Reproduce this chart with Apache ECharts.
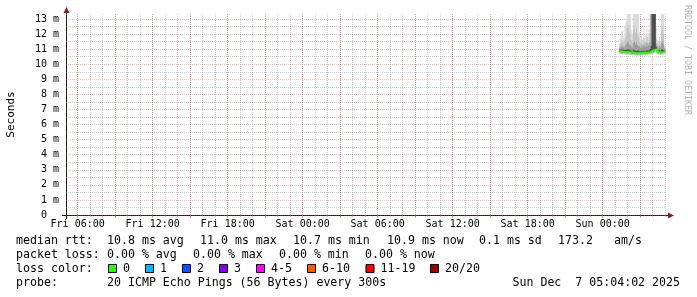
<!DOCTYPE html>
<html><head><meta charset="utf-8">
<script src="https://cdn.jsdelivr.net/npm/echarts@6/dist/echarts.min.js"></script>
<style>html,body{margin:0;padding:0;background:#fff}#c{width:697px;height:297px}</style>
</head><body><div id="c"></div>
<script>
// ---------- data ----------
const times = ['01:20','01:25','01:30','01:35','01:40','01:45','01:50','01:55',
  '02:00','02:05','02:10','02:15','02:20','02:25','02:30','02:35','02:40','02:45','02:50','02:55',
  '03:00','03:05','03:10','03:15','03:20','03:25','03:30','03:35','03:40','03:45','03:50','03:55',
  '04:00','04:05','04:10','04:15','04:20','04:25','04:30','04:35','04:40','04:45','04:50','04:55',
  '05:00'];
const medianRtt = [10.88,10.86,10.84,10.82,10.85,10.80,10.79,10.81,10.78,10.80,
  10.79,10.77,10.75,10.78,10.74,10.73,10.72,10.74,10.76,10.72,
  10.71,10.75,10.73,10.77,10.76,10.74,10.78,10.77,10.79,10.80,
  10.82,10.88,10.85,10.95,11.02,10.98,10.86,10.79,10.80,10.78,
  10.80,10.79,10.81,10.85,10.90];
const smokeMin = [10.70,10.70,10.68,10.66,10.69,10.64,10.64,10.65,10.62,10.64,
  10.63,10.62,10.60,10.63,10.59,10.58,10.58,10.60,10.61,10.57,
  10.57,10.60,10.58,10.62,10.61,10.59,10.63,10.62,10.64,10.65,
  10.66,10.70,10.68,10.75,10.80,10.78,10.70,10.64,10.65,10.63,
  10.65,10.64,10.66,10.70,10.74];
const smokeLow = [10.83,10.81,10.79,10.77,10.80,10.75,10.74,10.76,10.73,10.75,
  10.74,10.72,10.70,10.73,10.69,10.68,10.67,10.69,10.71,10.67,
  10.66,10.70,10.68,10.72,10.71,10.69,10.73,10.72,10.74,10.75,
  10.77,10.83,10.80,10.90,10.97,10.93,10.81,10.74,10.75,10.73,
  10.75,10.74,10.76,10.80,10.85];
const smokeP60 = [10.98,10.97,11.00,10.95,10.96,10.92,10.95,10.97,11.00,10.96,
  10.92,10.90,10.86,10.96,10.92,10.90,10.88,10.91,10.90,10.86,
  10.85,10.90,10.86,10.91,10.90,10.86,10.95,10.90,10.92,11.00,
  11.20,14.00,14.00,14.00,14.00,11.15,10.97,10.90,10.92,10.90,
  10.98,10.97,10.93,10.96,11.02];
const smokeP75 = [11.10,11.12,11.22,11.18,11.10,11.20,11.30,11.42,11.50,11.32,
  11.28,11.18,11.10,11.40,11.50,11.30,11.42,11.28,11.20,11.18,
  11.10,11.28,11.12,11.30,11.20,11.18,11.40,11.20,11.30,11.45,
  14.00,14.00,14.00,14.00,14.00,11.30,11.20,11.05,11.20,11.10,
  11.40,11.50,11.30,11.02,11.08];
const smokeP90 = [11.30,11.40,11.60,11.50,11.30,11.60,11.90,12.40,12.60,12.20,
  12.00,11.60,11.40,12.30,12.60,12.10,12.40,12.00,11.80,11.50,
  11.40,11.60,11.30,11.70,11.40,11.50,11.80,11.40,11.60,12.00,
  14.00,14.00,14.00,14.00,14.00,11.70,11.40,11.20,11.50,11.30,
  12.20,12.60,12.00,11.10,11.20];
const smokeMax = [11.70,11.90,12.20,12.20,11.80,12.50,12.90,14.00,14.00,14.00,
  14.00,12.30,11.90,14.00,14.00,14.00,14.00,14.00,14.00,12.10,
  11.80,12.00,11.60,12.40,11.70,11.90,12.60,11.80,12.30,14.00,
  14.00,14.00,14.00,14.00,14.00,12.40,11.60,11.40,11.80,11.50,
  14.00,14.00,14.00,11.20,11.30];
const yTicks = [0,1,2,3,4,5,6,7,8,9,10,11,12,13];
const yMinorTicks = [0.5,1.5,2.5,3.5,4.5,5.5,6.5,7.5,8.5,9.5,10.5,11.5,12.5];
const xLabelHours = [6,12,18,24,30,36,42,48];
const xLabels = ['Fri 06:00','Fri 12:00','Fri 18:00','Sat 00:00','Sat 06:00','Sat 12:00','Sat 18:00','Sun 00:00'];
const xMajorHours = [6,9,12,15,18,21,24,27,30,33,36,39,42,45,48,51];
const xMinorHours = [6,7,8,9,10,11,12,13,14,15,16,17,18,19,20,21,22,23,24,25,26,27,28,29,30,31,32,33,34,35,36,37,38,39,40,41,42,43,44,45,46,47,48,49,50,51,52,53];
const lossLabels = ['0','1','2','3','4-5','6-10','11-19','20/20'];
const lossColors = ['#26ff00','#00b8ff','#0059ff','#7e00ff','#ff00ff','#ff5500','#ff0000','#a10000'];
const rttStats = ['median rtt:','10.8 ms avg','11.0 ms max','10.7 ms min','10.9 ms now','0.1 ms sd','173.2','am/s'];
const lossStats = ['packet loss:','0.00 % avg','0.00 % max','0.00 % min','0.00 % now'];
const probeText = ['probe:','20 ICMP Echo Pings (56 Bytes) every 300s'];
const dateText = 'Sun Dec  7 05:04:02 2025';
const yTitle = 'Seconds';
const watermark = 'RRDTOOL / TOBI OETIKER';

// ---------- layout ----------
const W = 697, H = 297;
const GL = 66, GT = 14, GW = 600, GH = 201;
const T0 = 5 + 4/60 + 2/3600, T1 = T0 + 48;   // hours since Fri 00:00
const YMAX = 13.33;
const FONT = '"DejaVu Sans Mono", monospace';
const hx = times.map(t => { const [h, m] = t.split(':').map(Number); return 48 + h + m / 60; });

const minorGrid = {color: 'rgba(130,130,130,0.42)', type: [1, 1], width: 1};
const majorGrid = {color: 'rgba(220,60,60,0.36)', type: [1, 1], width: 1};
const baseX = {type: 'value', min: T0, max: T1, gridIndex: 0, position: 'bottom',
  axisLine: {show: false}, axisLabel: {show: false}, axisTick: {show: false}, splitLine: {show: false}};
const baseY = {type: 'value', min: 0, max: YMAX, gridIndex: 0, position: 'left',
  axisLine: {show: false}, axisLabel: {show: false}, axisTick: {show: false}, splitLine: {show: false}};

const bands = [
  {lo: smokeMin, hi: smokeMax, color: '#dcdcdc'},
  {lo: smokeMin, hi: smokeP90, color: '#c4c4c4'},
  {lo: smokeLow, hi: smokeP75, color: '#9e9e9e'},
  {lo: smokeLow, hi: smokeP60, color: '#4e4e4e'}
];

// smoke bands drawn as stepped polygons through the axes' scales
function renderBand(params, api) {
  const b = bands[params.dataIndex];
  const cs = params.coordSys;
  const clampY = p => [p[0], Math.max(cs.y, Math.min(cs.y + cs.height, p[1]))];
  const top = [], bot = [];
  for (let i = 0; i < hx.length - 1; i++) {
    top.push(clampY(api.coord([hx[i], b.hi[i]])), clampY(api.coord([hx[i + 1], b.hi[i]])));
    bot.push(clampY(api.coord([hx[i], b.lo[i]])), clampY(api.coord([hx[i + 1], b.lo[i]])));
  }
  return {type: 'polygon', shape: {points: top.concat(bot.reverse())}, style: {fill: b.color}};
}
const series = [{type: 'custom', renderItem: renderBand, data: bands.map((b, k) => k), silent: true, z: 2,
  xAxisIndex: 0, yAxisIndex: 1}];
series.push({type: 'line', step: 'end', symbol: 'none', silent: true, z: 5, xAxisIndex: 0, yAxisIndex: 1,
  lineStyle: {width: 2, color: lossColors[0]}, data: hx.map((x, i) => [x, medianRtt[i]])});

const gx = [];
const txt = (x, y, text, extra) => gx.push(Object.assign({type: 'text', x, y,
  style: Object.assign({text, font: '11.6px ' + FONT, fill: '#000', verticalAlign: 'middle', align: 'left'}, extra || {})}));
// axis lines and arrows
const axisCol = '#1a1a1a', arrowCol = '#7f1f1f';
const xAxisY = GT + GH + 0.5, yAxisX = GL + 0.5;
gx.push({type: 'line', shape: {x1: GL - 4, y1: xAxisY, x2: GL + GW + 3, y2: xAxisY}, style: {stroke: axisCol, lineWidth: 1}});
gx.push({type: 'line', shape: {x1: yAxisX, y1: GT + GH + 4, x2: yAxisX, y2: GT - 4}, style: {stroke: axisCol, lineWidth: 1}});
gx.push({type: 'polygon', shape: {points: [[GL + GW + 2, xAxisY - 3], [GL + GW + 8, xAxisY], [GL + GW + 2, xAxisY + 3]]}, style: {fill: arrowCol}});
gx.push({type: 'polygon', shape: {points: [[yAxisX - 3, GT - 1], [yAxisX, GT - 7], [yAxisX + 3, GT - 1]]}, style: {fill: arrowCol}});
// titles
gx.push({type: 'text', x: 11, y: GT + GH / 2, rotation: Math.PI / 2,
  style: {text: yTitle, font: '11px ' + FONT, fill: '#000', align: 'center', verticalAlign: 'middle'}});
gx.push({type: 'text', x: 687.5, y: 60, rotation: -Math.PI / 2,
  style: {text: watermark, font: '8.3px ' + FONT, fill: '#b4b4b4', align: 'center', verticalAlign: 'middle'}});
// legend lines
const rttX = [16, 107, 200, 293, 387, 479, 558, 614];
rttStats.forEach((s, i) => txt(rttX[i], 241, s));
const lossX = [16, 107, 193, 279, 365];
lossStats.forEach((s, i) => txt(lossX[i], 255, s));
txt(16, 269, 'loss color:');
const boxX = [108, 145, 182, 219, 256, 307, 365.5, 430];
lossLabels.forEach((s, i) => {
  gx.push({type: 'rect', shape: {x: boxX[i] + 0.5, y: 264.5, width: 8, height: 8},
    style: {fill: lossColors[i], stroke: '#000', lineWidth: 1}});
  txt(boxX[i] + 15, 269, s);
});
txt(16, 283, probeText[0]);
txt(107, 283, probeText[1]);
txt(680, 283, dateText, {align: 'right'});

const option = {
  animation: false,
  backgroundColor: '#fff',
  grid: {left: GL, top: GT, width: GW, height: GH, containLabel: false},
  xAxis: [
    Object.assign({}, baseX, {axisTick: {show: true, customValues: xMinorHours, length: 2, lineStyle: {color: 'rgba(130,130,130,0.5)'}},
      splitLine: {show: true, lineStyle: minorGrid}}),
    Object.assign({}, baseX, {axisTick: {show: true, customValues: xMajorHours, length: 3, lineStyle: {color: 'rgba(220,60,60,0.45)'}},
      splitLine: {show: true, lineStyle: majorGrid}}),
    Object.assign({}, baseX, {axisLabel: {show: true, customValues: xLabelHours, margin: 4,
      fontFamily: FONT, fontSize: 10, color: '#000',
      formatter: v => { const i = xLabelHours.findIndex(h => Math.abs(h - v) < 1e-6); return i >= 0 ? xLabels[i] : ''; }}})
  ],
  yAxis: [
    Object.assign({}, baseY, {axisTick: {show: false, customValues: yMinorTicks}, splitLine: {show: true, lineStyle: minorGrid}}),
    Object.assign({}, baseY, {axisTick: {show: false, customValues: yTicks},
      axisLabel: {show: true, customValues: yTicks, margin: 7, fontFamily: FONT, fontSize: 10, color: '#000',
        formatter: v => v === 0 ? '0  ' : v + ' m'},
      splitLine: {show: true, lineStyle: majorGrid}})
  ],
  series,
  graphic: {elements: gx}
};
const chart = echarts.init(document.getElementById('c'), null, {renderer: 'canvas', width: W, height: H});
chart.setOption(option);
</script>
</body></html>
